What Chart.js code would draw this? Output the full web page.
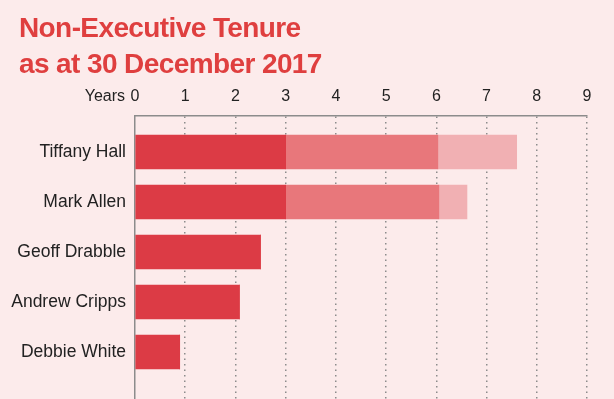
<!DOCTYPE html>
<html>
<head>
<meta charset="utf-8">
<title>Non-Executive Tenure</title>
<script src="https://cdn.jsdelivr.net/npm/chart.js@4"></script>
<style>
  html, body { margin: 0; padding: 0; background: #fcebeb; }
  #wrap { position: relative; width: 614px; height: 399px; }
  #wrap canvas { position: absolute; left: 0; top: 0; }
  h1 {
    position: absolute; left: 19px; top: 10px; margin: 0;
    font: bold 28px "Liberation Sans", Arial, sans-serif;
    letter-spacing: -0.6px; line-height: 36px;
    color: #df3f3f; z-index: 2;
  }
</style>
</head>
<body>
<div id="wrap">
  <h1>Non-Executive Tenure<br>as at 30 December 2017</h1>
  <canvas id="myChart" width="614" height="399"></canvas>
</div>
<script>
'use strict';

const directors = ['Tiffany Hall', 'Mark Allen', 'Geoff Drabble', 'Andrew Cripps', 'Debbie White'];
// years served in each three year term
const firstTerm = [3, 3, 2.5, 2.08, 0.89];
const secondTerm = [3.03, 3.05, 0, 0, 0];
const thirdTerm = [1.57, 0.56, 0, 0, 0];
const yearTicks = [0, 1, 2, 3, 4, 5, 6, 7, 8, 9];

const fontFamily = 'Liberation Sans, Arial, sans-serif';

function toPoints(values) {
  return values.map((v, i) => ({ x: v, y: i }));
}

// draws the "Years" caption in front of the 0 tick
const yearsCaption = {
  id: 'yearsCaption',
  afterDraw(chart) {
    const xs = chart.scales.x;
    const ctx = chart.ctx;
    ctx.save();
    ctx.font = '16px ' + fontFamily;
    ctx.fillStyle = '#222';
    ctx.textAlign = 'right';
    ctx.textBaseline = 'middle';
    ctx.fillText('Years', xs.getPixelForValue(0) - 10, xs.bottom - 10 - 16 * 1.2 / 2);
    ctx.restore();
  }
};

let ctx = document.getElementById('myChart').getContext('2d');
let chart = new Chart(ctx, {
  type: 'bar',
  data: {
    datasets: [
      { label: 'First term', data: toPoints(firstTerm), backgroundColor: '#dc3b45' },
      { label: 'Second term', data: toPoints(secondTerm), backgroundColor: '#e8777b' },
      { label: 'Third term', data: toPoints(thirdTerm), backgroundColor: '#f1b0b3' }
    ]
  },
  options: {
    indexAxis: 'y',
    responsive: false,
    animation: false,
    layout: { padding: { right: 27, bottom: 0, top: 0, left: 0 } },
    datasets: { bar: { barThickness: 34, borderWidth: 0 } },
    plugins: { legend: { display: false }, tooltip: { enabled: false } },
    scales: {
      x: {
        position: 'top',
        stacked: true,
        min: 0,
        max: 9,
        afterFit(scale) {
          scale.height = 116;
          scale.paddingLeft = 0;
          scale.paddingRight = 0;
        },
        afterBuildTicks(scale) { scale.ticks = yearTicks.map(v => ({ value: v })); },
        ticks: { color: '#222', font: { family: fontFamily, size: 16 }, padding: 10, maxRotation: 0, autoSkip: false },
        grid: {
          drawTicks: false,
          lineWidth: 1.5,
          color: c => (c.tick && c.tick.value === 0 ? 'rgba(0,0,0,0)' : '#8c8c8c')
        },
        border: { display: true, color: '#8c8c8c', width: 1.5, dash: [1.5, 4] }
      },
      y: {
        type: 'linear',
        stacked: true,
        reverse: true,
        offset: false,
        min: -0.72,
        max: 4.94,
        afterFit(scale) {
          scale.width = 135;
          scale.paddingTop = 0;
          scale.paddingBottom = 0;
        },
        afterBuildTicks(scale) { scale.ticks = directors.map((d, i) => ({ value: i })); },
        ticks: {
          color: '#222',
          font: { family: fontFamily, size: 17.5 },
          padding: 9,
          callback: v => directors[v]
        },
        grid: { display: false, drawTicks: false, offset: false },
        border: { display: true, color: '#8c8c8c', width: 1.5 }
      }
    }
  },
  plugins: [yearsCaption]
});
</script>
</body>
</html>
